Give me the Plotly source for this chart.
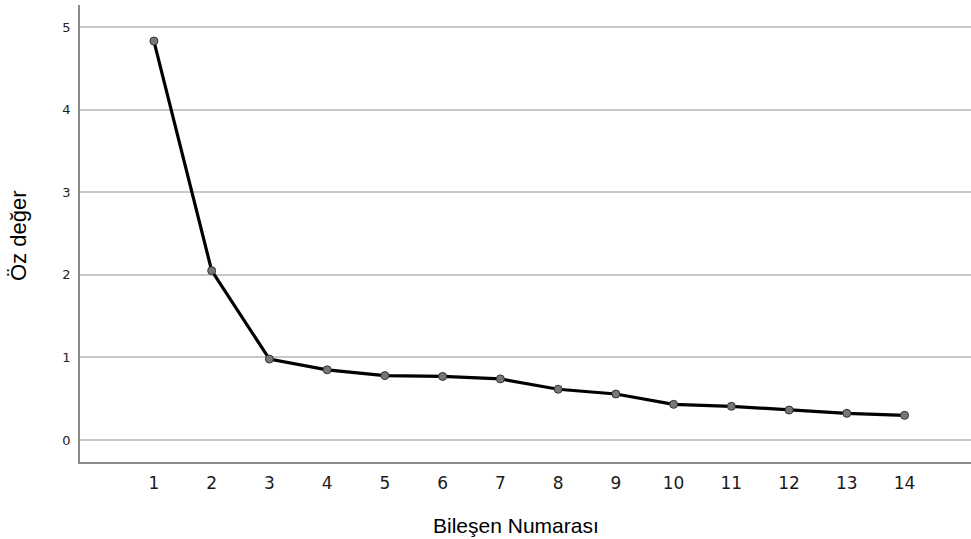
import plotly.graph_objects as go

components = [1, 2, 3, 4, 5, 6, 7, 8, 9, 10, 11, 12, 13, 14]
eigenvalues = [4.83, 2.05, 0.98, 0.85, 0.78, 0.77, 0.74, 0.615, 0.557, 0.432, 0.408, 0.363, 0.323, 0.299]
y_ticks = [0, 1, 2, 3, 4, 5]

fig = go.Figure()
fig.add_trace(go.Scatter(
    x=components, y=eigenvalues, mode="lines+markers",
    line=dict(color="black", width=3.2),
    marker=dict(size=8, color="#777777", line=dict(color="#333333", width=1)),
    showlegend=False, hoverinfo="x+y",
))

fig.update_layout(
    width=971, height=539,
    margin=dict(l=80, r=0, t=5, b=77, autoexpand=False),
    paper_bgcolor="white", plot_bgcolor="white",
    font=dict(family="Liberation Sans, Arial, sans-serif", color="black"),
    xaxis=dict(
        range=[-0.28, 15.15], tickmode="array", tickvals=components,
        ticktext=[str(c) for c in components],
        showgrid=False, zeroline=False, automargin=False,
        showline=True, linecolor="#8a8a8a", linewidth=1.5,
        ticks="outside", ticklen=5, tickcolor="white",
        tickfont=dict(family="DejaVu Sans, sans-serif", size=17, color="#1a1a1a"),
    ),
    yaxis=dict(
        range=[-0.266, 5.266], tickmode="array", tickvals=y_ticks,
        showgrid=True, gridcolor="#c8c8c8", gridwidth=1.5,
        zeroline=False, automargin=False,
        showline=True, linecolor="#8a8a8a", linewidth=1.5,
        ticks="outside", ticklen=5, tickcolor="white",
        tickfont=dict(family="DejaVu Sans, sans-serif", size=13, color="#222222"),
    ),
    annotations=[
        dict(text="Bileşen Numarası", xref="paper", yref="paper",
             x=(516 - 80) / 891, y=-(525 - 462) / 457, showarrow=False,
             xanchor="center", yanchor="middle", font=dict(size=21)),
        dict(text="Öz değer", xref="paper", yref="paper",
             x=-(80 - 19) / 891, y=(462 - 236) / 457, showarrow=False, textangle=-90,
             xanchor="center", yanchor="middle", font=dict(size=22)),
    ],
)

fig.write_html("out.html", config={"displayModeBar": False},
               post_script="document.body.style.margin='0';document.body.style.padding='0';")
